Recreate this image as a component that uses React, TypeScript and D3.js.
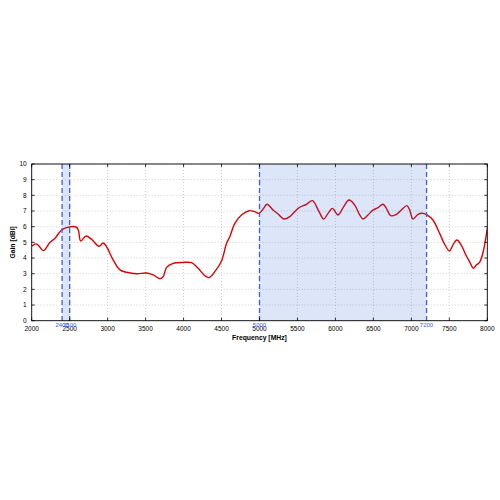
import React from "react";
import * as d3 from "d3";

const freqs = [2000,2057,2090,2153,2241,2307,2394,2460,2583,2614,2645,2714,2789,2886,2942,2986,3074,3162,3250,3382,3513,3600,3688,3732,3776,3864,3995,4105,4192,4280,4337,4412,4500,4566,4609,4675,4763,4863,4938,4995,5047,5100,5179,5245,5320,5399,5509,5618,5697,5780,5845,5903,5960,6034,6109,6179,6254,6320,6363,6429,6495,6561,6626,6671,6728,6803,6868,6942,6978,7021,7087,7153,7205,7284,7372,7437,7503,7546,7599,7657,7713,7766,7818,7854,7897,7941,8000];
const gains = [4.75,4.9,4.8,4.47,5.0,5.26,5.79,5.94,5.98,5.79,5.09,5.4,5.19,4.75,4.96,4.72,3.87,3.24,3.09,3.0,3.04,2.92,2.68,2.81,3.4,3.66,3.72,3.7,3.34,2.87,2.75,3.13,3.81,4.94,5.36,6.21,6.75,7.02,6.96,6.85,7.13,7.43,7.06,6.81,6.49,6.64,7.17,7.43,7.66,7.0,6.49,6.85,7.17,6.75,7.28,7.7,7.38,6.75,6.49,6.75,7.06,7.21,7.43,7.17,6.7,6.79,7.06,7.34,7.06,6.49,6.79,6.85,6.75,6.43,5.58,4.88,4.45,4.83,5.15,4.83,4.24,3.77,3.34,3.55,3.72,4.3,5.9];

const xTicks = [2000,2500,3000,3500,4000,4500,5000,5500,6000,6500,7000,7500,8000];
const yTicks = [0,1,2,3,4,5,6,7,8,9,10];
const bands: [number, number][] = [[2400,2500],[5000,7200]];
const bandEdges = [2400,2500,5000,7200];

const L = 31.7, R = 487.3, T = 164, B = 320.7;
const font = "'Liberation Sans', Arial, sans-serif";

export default function App() {
  const x = d3.scaleLinear().domain([2000, 8000]).range([L, R]);
  const y = d3.scaleLinear().domain([0, 10]).range([B, T]);
  const pts = freqs.map((f, i) => [f, gains[i]] as [number, number]);
  const line = d3.line<[number, number]>().x(d => x(d[0])).y(d => y(d[1])).curve(d3.curveCatmullRom.alpha(0.5));
  const path = line(pts) || "";
  const blue = "#3a5fe0";
  return (
    <svg width={500} height={500} style={{ position: "absolute", left: 0, top: 0, background: "#fff" }} fontFamily={font}>
      <defs>
        <clipPath id="pc"><rect x={L} y={T} width={R - L} height={B - T} /></clipPath>
      </defs>
      {xTicks.map(t => (
        <line key={"gx" + t} x1={x(t)} x2={x(t)} y1={T} y2={B} stroke="#b0b0b0" strokeWidth={0.6} strokeDasharray="1,2" />
      ))}
      {yTicks.map(t => (
        <line key={"gy" + t} x1={L} x2={R} y1={y(t)} y2={y(t)} stroke="#b0b0b0" strokeWidth={0.6} strokeDasharray="1,2" />
      ))}
      <path d={path} fill="none" stroke="#dd0000" strokeWidth={1.4} clipPath="url(#pc)" />
      {bands.map((b, i) => (
        <rect key={"b" + i} x={x(b[0])} y={T} width={x(b[1]) - x(b[0])} height={B - T} fill="#3366dd" fillOpacity={0.17} />
      ))}
      {bandEdges.map(e => (
        <line key={"be" + e} x1={x(e)} x2={x(e)} y1={T} y2={B} stroke={blue} strokeWidth={1.3} strokeDasharray="5,3" />
      ))}
      <rect x={L} y={T} width={R - L} height={B - T} fill="none" stroke="#000" strokeWidth={0.9} />
      {xTicks.map(t => (
        <g key={"xt" + t}>
          <line x1={x(t)} x2={x(t)} y1={B} y2={B - 3} stroke="#000" strokeWidth={0.8} />
          <line x1={x(t)} x2={x(t)} y1={T} y2={T + 3} stroke="#000" strokeWidth={0.8} />
          <text x={x(t)} y={B + 10} fontSize={6.5} textAnchor="middle" fill="#000">{t}</text>
        </g>
      ))}
      {yTicks.map(t => (
        <g key={"yt" + t}>
          <line x1={L} x2={L + 3} y1={y(t)} y2={y(t)} stroke="#000" strokeWidth={0.8} />
          <line x1={R} x2={R - 3} y1={y(t)} y2={y(t)} stroke="#000" strokeWidth={0.8} />
          <text x={L - 5} y={y(t) + 2.3} fontSize={6.5} textAnchor="end" fill="#000">{t}</text>
        </g>
      ))}
      {bandEdges.map(e => (
        <text key={"bl" + e} x={x(e)} y={B + 6} fontSize={6} textAnchor="middle" fill={blue}>{e}</text>
      ))}
      <text x={(L + R) / 2} y={340} fontSize={6.8} fontWeight="bold" textAnchor="middle" fill="#000">Frequency [MHz]</text>
      <text transform={`translate(15,${(T + B) / 2}) rotate(-90)`} fontSize={6.8} fontWeight="bold" textAnchor="middle" fill="#000">Gain [dBi]</text>
    </svg>
  );
}
